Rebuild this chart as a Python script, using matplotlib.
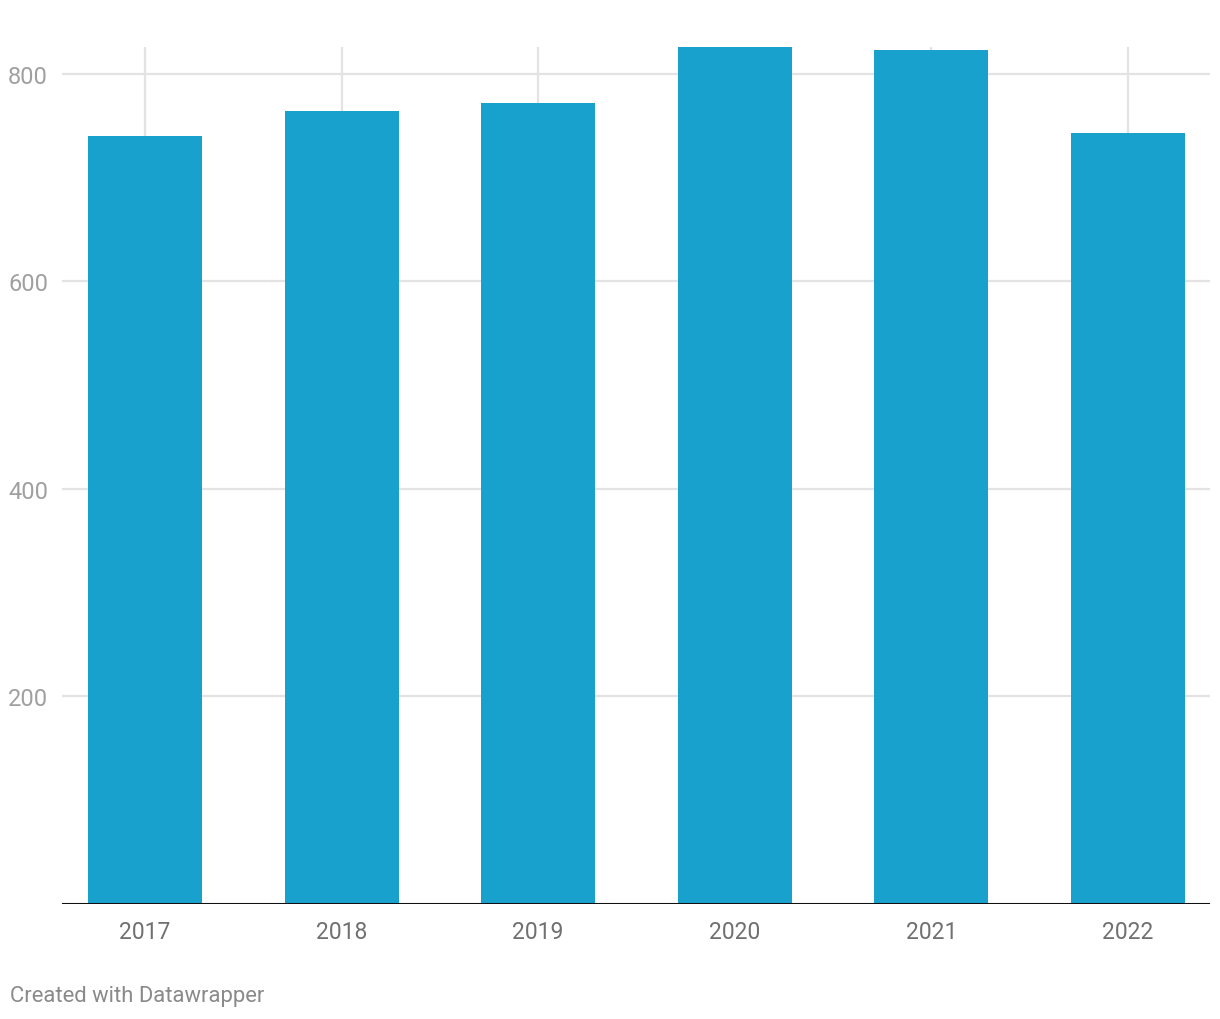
import matplotlib.pyplot as plt

# data
years = ["2017", "2018", "2019", "2020", "2021", "2022"]
values = [740, 764, 772, 826, 823, 743]
y_ticks = [200, 400, 600, 800]

plt.rcParams['font.family'] = ['Roboto', 'DejaVu Sans']

fig = plt.figure(figsize=(12.2, 10.2), dpi=100)
ax = fig.add_axes([62 / 1220, 115.5 / 1020, 1148 / 1220, 856.5 / 1020])

x = list(range(len(years)))
ax.bar(x, values, width=0.58, color="#18a1cd", zorder=3)

# vertical grid at each category, behind bars
for xi in x:
    ax.axvline(xi, color="#e3e3e3", lw=1.6, zorder=1)
for yt in y_ticks:
    ax.axhline(yt, color="#e3e3e3", lw=1.6, zorder=1)
ax.axhline(0, color="#111111", lw=2.2, zorder=4)

ax.set_xlim(-0.422, 5.417)
ax.set_ylim(0, 826)

ax.set_xticks(x)
ax.set_xticklabels(years, fontsize=16.5, color="#707070")
ax.set_yticks(y_ticks)
ax.set_yticklabels([str(v) for v in y_ticks], fontsize=17, color="#a0a0a0")
ax.tick_params(axis="x", length=0, pad=12)
ax.tick_params(axis="y", length=0, pad=10)
for s in ax.spines.values():
    s.set_visible(False)

fig.text(10 / 1220, 1 - 997 / 1020, "Created with Datawrapper", fontsize=15.8,
         color="#8a8a8a", ha="left", va="center")

fig.savefig("out.png", dpi=100)
